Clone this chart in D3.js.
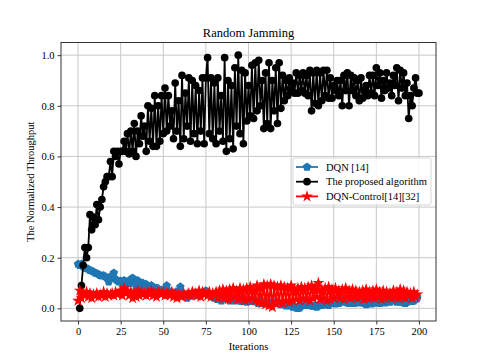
<!DOCTYPE html>
<html>
<head>
<meta charset="utf-8">
<script src="https://cdn.jsdelivr.net/npm/d3@7"></script>
<style>
  body { margin: 0; background: #fff; }
  svg text { font-family: "Liberation Serif", "DejaVu Serif", serif; fill: #000; }
</style>
</head>
<body>
<svg id="chart" width="485" height="361" font-family="Liberation Serif, serif"></svg>
<script>
const xTicks = [0, 25, 50, 75, 100, 125, 150, 175, 200];
const yTicks = [0.0, 0.2, 0.4, 0.6, 0.8, 1.0];

// DQN [14], iterations 0..199
const dqn = [
  0.175, 0.17, 0.175, 0.165, 0.16, 0.158, 0.155, 0.15, 0.148, 0.145,
  0.14, 0.138, 0.135, 0.13, 0.128, 0.13, 0.125, 0.12, 0.105, 0.118,
  0.13, 0.14, 0.115, 0.11, 0.105, 0.108, 0.1, 0.11, 0.105, 0.1,
  0.098, 0.115, 0.12, 0.105, 0.09, 0.11, 0.095, 0.085, 0.1, 0.09,
  0.095, 0.088, 0.08, 0.09, 0.085, 0.075, 0.08, 0.078, 0.07, 0.072,
  0.068, 0.075, 0.09, 0.07, 0.065, 0.06, 0.062, 0.058, 0.055, 0.07,
  0.085, 0.06, 0.05, 0.045, 0.04, 0.05, 0.048, 0.055, 0.06, 0.052,
  0.05, 0.055, 0.06, 0.058, 0.065, 0.07, 0.06, 0.055, 0.05, 0.045,
  0.04, 0.045, 0.035, 0.04, 0.03, 0.045, 0.038, 0.04, 0.035, 0.03,
  0.04, 0.035, 0.03, 0.038, 0.04, 0.03, 0.028, 0.035, 0.03, 0.025,
  0.035, 0.03, 0.028, 0.032, 0.03, 0.025, 0.02, 0.03, 0.025, 0.02,
  0.028, 0.025, 0.02, 0.018, 0.025, 0.022, 0.02, 0.025, 0.018, 0.015,
  0.02, 0.015, 0.01, 0.015, 0.012, 0.01, 0.005, 0.008, 0.002, 0.0,
  0.002, 0.01, 0.015, 0.02, 0.012, 0.018, 0.015, 0.01, 0.008, 0.012,
  0.005, 0.01, 0.015, 0.012, 0.02, 0.018, 0.015, 0.012, 0.02, 0.025,
  0.022, 0.018, 0.025, 0.02, 0.03, 0.028, 0.025, 0.03, 0.022, 0.02,
  0.025, 0.03, 0.02, 0.025, 0.028, 0.022, 0.03, 0.025, 0.02, 0.015,
  0.022, 0.025, 0.018, 0.02, 0.025, 0.022, 0.03, 0.02, 0.025, 0.028,
  0.022, 0.025, 0.03, 0.025, 0.032, 0.035, 0.03, 0.025, 0.03, 0.025,
  0.028, 0.022, 0.02, 0.025, 0.03, 0.035, 0.028, 0.03, 0.035, 0.04
];

// The proposed algorithm, iterations 1..200
const proposed = [
  0.00, 0.09, 0.17, 0.24, 0.20, 0.24, 0.37, 0.31, 0.36, 0.33,
  0.41, 0.35, 0.40, 0.43, 0.48, 0.50, 0.52, 0.52, 0.58, 0.52,
  0.62, 0.60, 0.62, 0.57, 0.62, 0.62, 0.66, 0.62, 0.69, 0.61,
  0.70, 0.62, 0.73, 0.60, 0.70, 0.65, 0.76, 0.68, 0.72, 0.62,
  0.80, 0.66, 0.79, 0.64, 0.84, 0.64, 0.80, 0.66, 0.84, 0.69,
  0.87, 0.70, 0.84, 0.72, 0.78, 0.67, 0.89, 0.70, 0.82, 0.64,
  0.92, 0.67, 0.85, 0.72, 0.91, 0.66, 0.90, 0.69, 0.88, 0.65,
  0.86, 0.70, 0.91, 0.65, 0.91, 0.99, 0.69, 0.91, 0.67, 0.89,
  0.65, 0.91, 0.70, 0.84, 0.66, 0.99, 0.62, 0.90, 0.67, 0.88,
  0.63, 0.95, 0.72, 1.00, 0.69, 0.94, 0.65, 0.93, 0.74, 0.88,
  0.76, 0.96, 0.75, 0.97, 0.78, 0.98, 0.80, 0.90, 0.71, 0.93,
  0.73, 0.97, 0.71, 0.90, 0.78, 0.95, 0.73, 0.97, 0.79, 0.92,
  0.82, 0.90, 0.84, 0.91, 0.86, 0.89, 0.85, 0.93, 0.85, 0.92,
  0.86, 0.93, 0.85, 0.92, 0.84, 0.94, 0.78, 0.93, 0.81, 0.94,
  0.80, 0.93, 0.82, 0.94, 0.84, 0.94, 0.83, 0.91, 0.83, 0.88,
  0.86, 0.90, 0.84, 0.90, 0.80, 0.92, 0.86, 0.93, 0.80, 0.92,
  0.86, 0.91, 0.84, 0.90, 0.82, 0.91, 0.83, 0.86, 0.88, 0.84,
  0.92, 0.85, 0.92, 0.84, 0.95, 0.88, 0.93, 0.83, 0.90, 0.86,
  0.93, 0.87, 0.89, 0.84, 0.92, 0.88, 0.95, 0.82, 0.94, 0.87,
  0.93, 0.84, 0.89, 0.75, 0.84, 0.80, 0.87, 0.91, 0.85, 0.85
];

// DQN-Control[14][32], iterations 0..199
const dqnControl = [
  0.03, 0.07, 0.04, 0.06, 0.05, 0.065, 0.045, 0.06, 0.04, 0.055,
  0.05, 0.06, 0.045, 0.055, 0.05, 0.065, 0.045, 0.06, 0.05, 0.055,
  0.06, 0.05, 0.065, 0.055, 0.06, 0.07, 0.05, 0.08, 0.06, 0.07,
  0.05, 0.065, 0.04, 0.06, 0.045, 0.07, 0.05, 0.065, 0.055, 0.06,
  0.05, 0.065, 0.055, 0.07, 0.05, 0.06, 0.045, 0.065, 0.06, 0.055,
  0.065, 0.05, 0.06, 0.055, 0.05, 0.065, 0.045, 0.06, 0.04, 0.055,
  0.05, 0.045, 0.06, 0.05, 0.055, 0.06, 0.05, 0.065, 0.055, 0.06,
  0.05, 0.07, 0.045, 0.065, 0.055, 0.06, 0.05, 0.065, 0.045, 0.06,
  0.05, 0.065, 0.04, 0.07, 0.045, 0.075, 0.04, 0.07, 0.035, 0.075,
  0.04, 0.08, 0.045, 0.07, 0.035, 0.08, 0.04, 0.075, 0.03, 0.08,
  0.035, 0.085, 0.04, 0.075, 0.03, 0.09, 0.025, 0.08, 0.02, 0.095,
  0.015, 0.09, 0.01, 0.095, 0.005, 0.09, 0.02, 0.085, 0.025, 0.09,
  0.02, 0.085, 0.03, 0.08, 0.025, 0.09, 0.03, 0.075, 0.035, 0.08,
  0.03, 0.085, 0.04, 0.08, 0.035, 0.085, 0.03, 0.09, 0.04, 0.08,
  0.045, 0.1, 0.035, 0.075, 0.04, 0.08, 0.03, 0.085, 0.035, 0.075,
  0.04, 0.08, 0.045, 0.07, 0.04, 0.075, 0.035, 0.08, 0.045, 0.07,
  0.04, 0.075, 0.045, 0.07, 0.04, 0.065, 0.045, 0.07, 0.035, 0.075,
  0.04, 0.065, 0.045, 0.07, 0.04, 0.075, 0.045, 0.065, 0.035, 0.07,
  0.04, 0.065, 0.045, 0.06, 0.04, 0.07, 0.045, 0.065, 0.04, 0.075,
  0.045, 0.07, 0.04, 0.065, 0.05, 0.06, 0.04, 0.065, 0.045, 0.055
];

// matplotlib-style pentagon marker
const symbolPentagon = {
  draw(context, size) {
    const r = Math.sqrt(size / 2.378);
    for (let i = 0; i < 5; i++) {
      const a = -Math.PI / 2 + (i * 2 * Math.PI) / 5;
      if (i === 0) context.moveTo(r * Math.cos(a), r * Math.sin(a));
      else context.lineTo(r * Math.cos(a), r * Math.sin(a));
    }
    context.closePath();
  },
};

const series = [
  { name: 'DQN [14]', values: dqn, x0: 0, color: '#1f77b4', symbol: symbolPentagon, size: 48 },
  { name: 'The proposed algorithm', values: proposed, x0: 1, color: '#000000', symbol: d3.symbolCircle, size: 46 },
  { name: 'DQN-Control[14][32]', values: dqnControl, x0: 0, color: '#ff0000', symbol: d3.symbolStar, size: 44 },
];

const svg = d3.select('#chart');
const margin = { left: 61, right: 49, top: 42.5, bottom: 40 };
const W = 485, H = 361;
const plotW = W - margin.left - margin.right;
const plotH = H - margin.top - margin.bottom;

const x = d3.scaleLinear().domain([-10, 210]).range([margin.left, margin.left + plotW]);
const y = d3.scaleLinear().domain([-0.05, 1.05]).range([margin.top + plotH, margin.top]);

// Grid
const grid = svg.append('g').attr('class', 'grid');
grid.selectAll('line.gx')
  .data(xTicks)
  .enter()
  .append('line')
  .attr('x1', (d) => x(d)).attr('x2', (d) => x(d))
  .attr('y1', margin.top).attr('y2', margin.top + plotH)
  .attr('stroke', '#c8c8c8').attr('stroke-width', 1);
grid.selectAll('line.gy')
  .data(yTicks)
  .enter()
  .append('line')
  .attr('y1', (d) => y(d)).attr('y2', (d) => y(d))
  .attr('x1', margin.left).attr('x2', margin.left + plotW)
  .attr('stroke', '#c8c8c8').attr('stroke-width', 1);

// Axes
const xAxis = svg.append('g')
  .attr('transform', `translate(0,${margin.top + plotH})`)
  .call(d3.axisBottom(x).tickValues(xTicks).tickFormat(d3.format('d')).tickSize(3.5).tickPadding(3));
const yAxis = svg.append('g')
  .attr('transform', `translate(${margin.left},0)`)
  .call(d3.axisLeft(y).tickValues(yTicks).tickFormat(d3.format('.1f')).tickSize(3.5).tickPadding(3));
[xAxis, yAxis].forEach((a) => {
  a.attr('font-family', 'Liberation Serif, serif');
  a.select('.domain').remove();
  a.selectAll('text').attr('font-size', '10.5px');
  a.selectAll('line').attr('stroke', '#333');
});

// Series
svg.append('defs').append('clipPath').attr('id', 'clip')
  .append('rect').attr('x', margin.left).attr('y', margin.top).attr('width', plotW).attr('height', plotH);

const plot = svg.append('g').attr('clip-path', 'url(#clip)');
const line = d3.line().x((d) => x(d[0])).y((d) => y(d[1]));

series.forEach((s) => {
  const pts = s.values.map((v, i) => [s.x0 + i, v]);
  const g = plot.append('g');
  g.append('path')
    .datum(pts)
    .attr('d', line)
    .attr('fill', 'none')
    .attr('stroke', s.color)
    .attr('stroke-width', 1.8);
  g.selectAll('path.m')
    .data(pts)
    .enter()
    .append('path')
    .attr('class', 'm')
    .attr('transform', (d) => `translate(${x(d[0])},${y(d[1])})`)
    .attr('d', d3.symbol().type(s.symbol).size(s.size))
    .attr('fill', s.color);
});

// Frame
svg.append('rect')
  .attr('x', margin.left).attr('y', margin.top)
  .attr('width', plotW).attr('height', plotH)
  .attr('fill', 'none').attr('stroke', '#333').attr('stroke-width', 1);

// Labels
svg.append('text')
  .attr('x', margin.left + plotW / 2).attr('y', 37)
  .attr('text-anchor', 'middle').attr('font-size', '12.5px')
  .text('Random Jamming');
svg.append('text')
  .attr('x', margin.left + plotW / 2).attr('y', 350)
  .attr('text-anchor', 'middle').attr('font-size', '10.5px')
  .text('Iterations');
svg.append('text')
  .attr('transform', `translate(34,${margin.top + plotH / 2}) rotate(-90)`)
  .attr('text-anchor', 'middle').attr('font-size', '10.5px')
  .text('The Normalized Throughput');

// Legend
const legend = svg.append('g').attr('transform', 'translate(293,158)');
legend.append('rect')
  .attr('width', 138).attr('height', 47).attr('rx', 2)
  .attr('fill', 'rgba(255,255,255,0.85)').attr('stroke', '#d6d6d6').attr('stroke-width', 1);
series.forEach((s, i) => {
  const row = legend.append('g').attr('transform', `translate(0,${9 + i * 14.7})`);
  row.append('line')
    .attr('x1', 3).attr('x2', 25)
    .attr('stroke', s.color).attr('stroke-width', 1.8);
  row.append('path')
    .attr('transform', 'translate(14,0)')
    .attr('d', d3.symbol().type(s.symbol).size(s.size))
    .attr('fill', s.color);
  row.append('text')
    .attr('x', 33).attr('dy', '0.35em')
    .attr('font-size', '10.5px')
    .text(s.name);
});
</script>
</body>
</html>
